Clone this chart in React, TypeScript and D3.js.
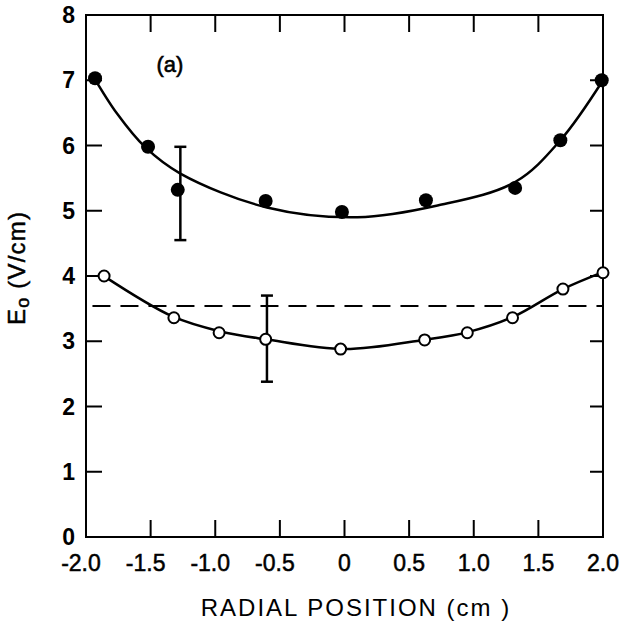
import React from "react";
import * as d3 from "d3";

// Filled circles (upper series)
const filledX = [-1.93, -1.52, -1.29, -0.61, -0.02, 0.63, 1.32, 1.67, 1.99];
const filledY = [7.03, 5.98, 5.32, 5.15, 4.98, 5.16, 5.35, 6.08, 7.0];
// Open circles (lower series)
const openX = [-1.86, -1.32, -0.97, -0.61, -0.03, 0.62, 0.95, 1.3, 1.69, 2.0];
const openY = [4.0, 3.36, 3.13, 3.03, 2.88, 3.02, 3.13, 3.36, 3.8, 4.05];
// Fitted curves
const upperCurveX = [-1.95, -1.76, -1.54, -1.27, -0.6, 0.1, 0.72, 1.32, 1.67, 2.0];
const upperCurveY = [7.08, 6.49, 5.97, 5.57, 5.05, 4.9, 5.08, 5.44, 6.08, 7.0];
const lowerCurveX = [-1.87, -1.33, -0.96, -0.61, 0.0, 0.61, 0.955, 1.3, 1.69, 2.0];
const lowerCurveY = [4.01, 3.38, 3.15, 3.03, 2.88, 3.02, 3.14, 3.37, 3.8, 4.06];
// Error bars
const errX = [-1.27, -0.6];
const errLow = [4.55, 2.38];
const errHigh = [5.98, 3.7];
// Dashed reference level
const dashedLevel = 3.54;
const dashedFrom = -1.95;

const xTicks = [-2.0, -1.5, -1.0, -0.5, 0, 0.5, 1.0, 1.5, 2.0];
const xTickLabels = ["-2.0", "-1.5", "-1.0", "-0.5", "0", "0.5", "1.0", "1.5", "2.0"];
const yTicks = [0, 1, 2, 3, 4, 5, 6, 7, 8];
const yTickLabels = ["0", "1", "2", "3", "4", "5", "6", "7", "8"];

const W = 629;
const H = 625;
const L = 86, R = 603, T = 15, B = 537;

export default function App() {
  const x = d3.scaleLinear().domain([-2, 2]).range([L, R]);
  const y = d3.scaleLinear().domain([0, 8]).range([B, T]);
  const line = d3
    .line<[number, number]>()
    .x((d) => x(d[0]))
    .y((d) => y(d[1]))
    .curve(d3.curveCatmullRom.alpha(0.5));
  const upper = upperCurveX.map((v, i) => [v, upperCurveY[i]] as [number, number]);
  const lower = lowerCurveX.map((v, i) => [v, lowerCurveY[i]] as [number, number]);
  const font = "'Liberation Sans', Arial, sans-serif";
  return (
    <svg
      width={W}
      height={H}
      style={{ position: "absolute", left: 0, top: 0, background: "#fff" }}
      fontFamily={font}
    >
      {/* frame */}
      <rect x={L} y={T} width={R - L} height={B - T} fill="none" stroke="#000" strokeWidth={2} />
      {/* x ticks bottom and top */}
      {xTicks.slice(1, -1).map((t, i) => (
        <g key={"xt" + i}>
          <line x1={x(t)} x2={x(t)} y1={B} y2={B - 17} stroke="#000" strokeWidth={2} />
          <line x1={x(t)} x2={x(t)} y1={T} y2={T + 17} stroke="#000" strokeWidth={2} />
        </g>
      ))}
      {xTicks.map((t, i) => (
        <text
          key={"xl" + i}
          x={x(t) - (t < 0 ? 5 : 0)}
          y={571}
          textAnchor="middle"
          fontSize={23}
          stroke="#000"
          strokeWidth={0.5}
          fill="#000"
        >
          {xTickLabels[i]}
        </text>
      ))}
      {/* y ticks left and right */}
      {yTicks.slice(1, -1).map((t, i) => (
        <g key={"yt" + i}>
          <line x1={L} x2={L + 16} y1={y(t)} y2={y(t)} stroke="#000" strokeWidth={2} />
          <line x1={R} x2={R - 13} y1={y(t)} y2={y(t)} stroke="#000" strokeWidth={2} />
        </g>
      ))}
      {yTicks.map((t, i) => (
        <text
          key={"yl" + i}
          x={75}
          y={y(t) + 8}
          textAnchor="end"
          fontSize={23}
          fontWeight="bold"
          fill="#000"
        >
          {yTickLabels[i]}
        </text>
      ))}
      {/* dashed level */}
      <line
        x1={x(dashedFrom)}
        x2={R}
        y1={y(dashedLevel)}
        y2={y(dashedLevel)}
        stroke="#000"
        strokeWidth={2}
        strokeDasharray="18 10"
      />
      {/* curves */}
      <path d={line(upper) || ""} fill="none" stroke="#000" strokeWidth={2.5} />
      <path d={line(lower) || ""} fill="none" stroke="#000" strokeWidth={2.5} />
      {/* error bars */}
      {errX.map((v, i) => (
        <g key={"e" + i}>
          <line x1={x(v)} x2={x(v)} y1={y(errLow[i])} y2={y(errHigh[i])} stroke="#000" strokeWidth={2.5} />
          <line x1={x(v) - 6} x2={x(v) + 6} y1={y(errLow[i])} y2={y(errLow[i])} stroke="#000" strokeWidth={2.5} />
          <line x1={x(v) - 6} x2={x(v) + 6} y1={y(errHigh[i])} y2={y(errHigh[i])} stroke="#000" strokeWidth={2.5} />
        </g>
      ))}
      {/* points */}
      {filledX.map((v, i) => (
        <circle key={"f" + i} cx={x(v)} cy={y(filledY[i])} r={7} fill="#000" />
      ))}
      {openX.map((v, i) => (
        <circle key={"o" + i} cx={x(v)} cy={y(openY[i])} r={5.5} fill="#fff" stroke="#000" strokeWidth={2} />
      ))}
      {/* panel label */}
      <text x={170} y={72} textAnchor="middle" fontSize={22} stroke="#000" strokeWidth={0.6} fill="#000">
        (a)
      </text>
      {/* axis titles */}
      <text x={356} y={616} textAnchor="middle" fontSize={24} letterSpacing={2} fill="#000">
        RADIAL POSITION  (cm )
      </text>
      <text
        transform="translate(25, 268) rotate(-90)"
        textAnchor="middle"
        fontSize={24}
        stroke="#000"
        strokeWidth={0.5}
        letterSpacing={1.2}
        fill="#000"
      >
        E
        <tspan fontSize={18} dy={4}>o</tspan>
        <tspan dy={-4}> (V/cm)</tspan>
      </text>
    </svg>
  );
}
